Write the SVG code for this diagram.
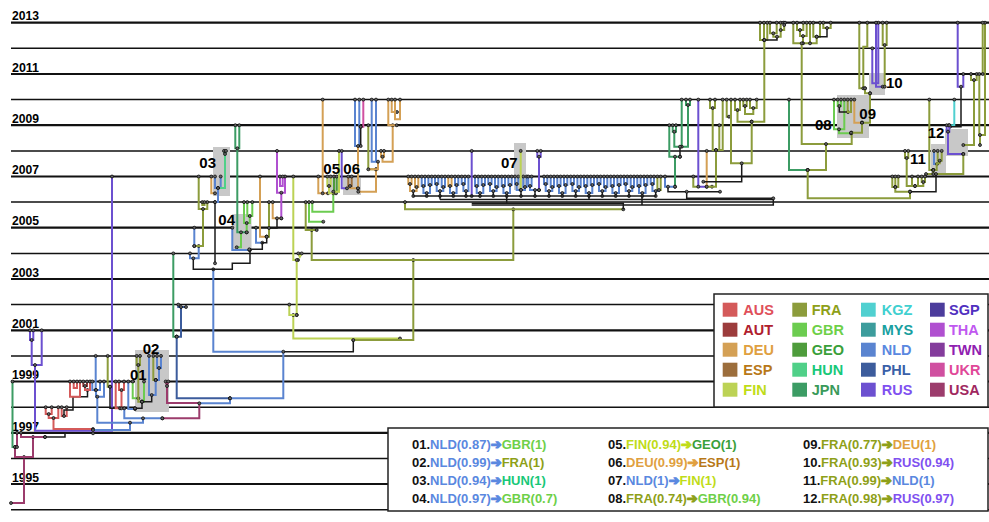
<svg xmlns="http://www.w3.org/2000/svg" width="989" height="522" viewBox="0 0 989 522">
<defs>
<marker id="dot" markerUnits="userSpaceOnUse" markerWidth="5" markerHeight="5" refX="2.5" refY="2.5" viewBox="0 0 5 5"><circle cx="2.5" cy="2.5" r="1.5" fill="#666" stroke="#000" stroke-width="0.7"/></marker>
</defs>
<style>
.yt{fill:none;stroke:#111;stroke-width:2.2}
.yn{fill:none;stroke:#111;stroke-width:1.5}
.yl{font-family:"Liberation Sans",Arial,sans-serif;font-weight:bold;font-size:13px;fill:#000}
.cl{font-family:"Liberation Sans",Arial,sans-serif;font-weight:bold;font-size:15px;fill:#000}
.hl{fill:#c8c8c8}
.e{fill:none;stroke-width:2;marker-start:url(#dot);marker-end:url(#dot)}
.kn{fill:none;stroke:#1a1a1a;stroke-width:1.5}
.k{stroke:#1a1a1a;stroke-width:1.5}
.aus{stroke:#d45a5a}.aut{stroke:#9c3c3c}.deu{stroke:#d4a055}.esp{stroke:#9c6e3c}.fin{stroke:#bcd255}
.fra{stroke:#8c9c3c}.gbr{stroke:#6ccc50}.geo{stroke:#4e9c3c}.hun{stroke:#50d088}.jpn{stroke:#3c9c64}
.kgz{stroke:#50d0d0}.mys{stroke:#3c9c9c}.nld{stroke:#5a84d0}.phl{stroke:#3c5c9c}.rus{stroke:#6c50d0}
.sgp{stroke:#4c3c9c}.tha{stroke:#b050d0}.twn{stroke:#843c9c}.ukr{stroke:#d050a0}.usa{stroke:#9c3c6c}
.box{fill:#fff;stroke:#222;stroke-width:1.5}
.lt{font-family:"Liberation Sans",Arial,sans-serif;font-weight:bold;font-size:14.5px}
.bt{font-family:"Liberation Sans",Arial,sans-serif;font-weight:bold;font-size:13px;fill:#111}
.ar{font-family:"DejaVu Sans",sans-serif;font-weight:bold;stroke-width:1.1;stroke-linejoin:round}
.cAUS{fill:#e0505a}.cAUT{fill:#b0202e}.cDEU{fill:#e0a040}.cESP{fill:#b87818}.cFIN{fill:#c0dc18}
.cFRA{fill:#8ea018}.cGBR{fill:#6ed048}.cGEO{fill:#3aa03a}.cHUN{fill:#18c878}.cJPN{fill:#3a9a5a}
.cKGZ{fill:#40d0d0}.cMYS{fill:#18a0a0}.cNLD{fill:#5a88e0}.cPHL{fill:#3a60a8}.cRUS{fill:#8050f0}
.cSGP{fill:#5030c0}.cTHA{fill:#c058f0}.cTWN{fill:#9020b0}.cUKR{fill:#e04898}.cUSA{fill:#a02860}
.sNLD{stroke:#5a88e0}.sFIN{stroke:#c0dc18}.sDEU{stroke:#e0a040}.sFRA{stroke:#8ea018}
</style>
<rect width="989" height="522" fill="#fff"/>
<g id="axis">
<path class="yt" d="M11,22.7H989M11,74H989M11,125.2H989M11,176.5H989M11,227.7H989M11,279H989M11,330.3H989M11,381.5H989M11,432.8H989M11,484H989"/>
<path class="yn" d="M11,48.3H989M11,99.6H989M11,150.9H989M11,202.1H989M11,253.4H989M11,304.6H989M11,355.9H989M11,407.2H989M11,458.4H989M11,509.7H989"/>
<text class="yl" x="12" y="20.4" textLength="27" lengthAdjust="spacingAndGlyphs">2013</text>
<text class="yl" x="12" y="71.7" textLength="27" lengthAdjust="spacingAndGlyphs">2011</text>
<text class="yl" x="12" y="122.9" textLength="27" lengthAdjust="spacingAndGlyphs">2009</text>
<text class="yl" x="12" y="174.2" textLength="27" lengthAdjust="spacingAndGlyphs">2007</text>
<text class="yl" x="12" y="225.4" textLength="27" lengthAdjust="spacingAndGlyphs">2005</text>
<text class="yl" x="12" y="276.7" textLength="27" lengthAdjust="spacingAndGlyphs">2003</text>
<text class="yl" x="12" y="328" textLength="27" lengthAdjust="spacingAndGlyphs">2001</text>
<text class="yl" x="12" y="379.2" textLength="27" lengthAdjust="spacingAndGlyphs">1999</text>
<text class="yl" x="12" y="430.5" textLength="27" lengthAdjust="spacingAndGlyphs">1997</text>
<text class="yl" x="12" y="481.7" textLength="27" lengthAdjust="spacingAndGlyphs">1995</text>
</g>
<g id="highlights">
<rect class="hl" x="135" y="350" width="34" height="62"/>
<rect class="hl" x="213" y="147" width="17" height="49"/>
<rect class="hl" x="232" y="214" width="19.5" height="36"/>
<rect class="hl" x="328" y="176" width="12" height="17"/>
<rect class="hl" x="343" y="178" width="18" height="17"/>
<rect class="hl" x="514" y="143" width="12" height="47"/>
<rect class="hl" x="837" y="95" width="32" height="43"/>
<rect class="hl" x="869" y="73" width="16" height="22"/>
<rect class="hl" x="931" y="144" width="15" height="29"/>
<rect class="hl" x="945" y="129" width="23" height="27"/>
</g>
<g id="connectors">
<path class="e usa" d="M24,457V503H11"/>
<path class="e usa" d="M15,447V457H33V437"/>
<path class="e jpn" d="M12.5,381.5V447H15"/>
<path class="e usa" d="M17,432.8V447"/>
<path class="e usa" d="M21,432.8V437H45"/>
<path class="e k" d="M45,437H65V433.3H93"/>
<path class="e rus" d="M30,330.3V340H33.3V330.3"/>
<path class="e rus" d="M31.7,340V365H41.7V330.3"/>
<path class="e rus" d="M35,365V430.7H112V176.5"/>
<path class="e aus" d="M45.7,407.2V414H51.7V407.2"/>
<path class="e aus" d="M48.7,414V418H58.3V407.2"/>
<path class="e aus" d="M53.5,418V429H93"/>
<path class="e aus" d="M61.7,407.2V416H66.7V407.2"/>
<path class="e k" d="M87.5,390V396.7H73V410H64V416"/>
<path class="e aus" d="M70,381.5V396.7H80V381.5"/>
<path class="e aus" d="M73.7,381.5V388H77V381.5"/>
<path class="e aut" d="M83.3,381.5V386H87V381.5"/>
<path class="e aus" d="M85,386V390H90V381.5"/>
<path class="e nld" d="M92.3,381.5V390H100V381.5"/>
<path class="e nld" d="M95.7,355.9V390"/>
<path class="e nld" d="M96,390V396.7H104V381.5"/>
<path class="e nld" d="M97.3,396.7V422.7H130V430H93"/>
<path class="e fra" d="M107.7,355.9V386.7H110"/>
<path class="e k" d="M110,386.7V408.3H135"/>
<path class="e aus" d="M115.7,381.5V408.3H120"/>
<path class="e aus" d="M119,381.5V390H124V381.5"/>
<path class="e aus" d="M121.5,390V408.3"/>
<path class="e nld" d="M128.3,381.5V409H135"/>
<path class="e gbr" d="M132.7,381.5V398.3H138.3"/>
<path class="e fra" d="M136.7,355.9V365H140V355.9"/>
<path class="e fra" d="M138.3,365V401.7H142"/>
<path class="e gbr" d="M144,381.5V401.7H142"/>
<path class="e k" d="M142,401.7V408.3H135"/>
<path class="e nld" d="M157,355.9V368H161V355.9"/>
<path class="e nld" d="M159,368V380H155.7"/>
<path class="e fra" d="M153.3,355.9V380H155.7"/>
<path class="e nld" d="M149,355.9V395H155.7V380"/>
<path class="e k" d="M151.7,395V401.7H142"/>
<path class="e usa" d="M165.7,381.5L167,386L168.3,381.5"/>
<path class="e usa" d="M167,386V403H199.3V418.3H162.3"/>
<path class="e nld" d="M124.3,408.3V418.3H162.3"/>
<path class="e nld" d="M143,418.3V422.7H130"/>
<path class="e jpn" d="M173.3,253.4V336.7H176.7"/>
<path class="e phl" d="M178.3,304.6V307H186"/>
<path class="e phl" d="M181,307V336.7H176.7"/>
<path class="e phl" d="M176.7,336.7V398.3H230"/>
<path class="e nld" d="M230,398.3V403.3H199.3"/>
<path class="e nld" d="M230,398.3H283.3V351.7H213.3V269.3"/>
<path class="e k" d="M283.3,351.7H353.3V340"/>
<path class="e fin" d="M293.3,315V338.5H400"/>
<path class="e fra" d="M353.3,340H413.3V260"/>
<path class="e nld" d="M190,253.4V258.3H198.7V246"/>
<path class="e fra" d="M198.7,176.5V209H207.3V202.1"/>
<path class="e fra" d="M202.3,202.1V205H204.5V202.1"/>
<path class="e fra" d="M203,209V246H194.3"/>
<path class="e nld" d="M194.3,227.7V246"/>
<path class="e k" d="M193.3,258.3V269.3H232.3V263.3H250V250"/>
<path class="e k" d="M215,202.1V263.3"/>
<path class="e deu" d="M211.3,176.5V193.3H215"/>
<path class="e nld" d="M215,176.5V188H220.7V176.5"/>
<path class="e hun" d="M224,150.9L225,154L226,150.9"/>
<path class="e hun" d="M225,154V188H218"/>
<path class="e nld" d="M218,188V202.1H215"/>
<path class="e jpn" d="M235.3,125.2V148.3H239.3V125.2"/>
<path class="e jpn" d="M237.3,148.3V232.3H246.7"/>
<path class="e gbr" d="M247.3,202.1V216H252.3V202.1"/>
<path class="e gbr" d="M249.8,216V223H244V202.1"/>
<path class="e gbr" d="M246.7,223V232.3"/>
<path class="e gbr" d="M241,232.3V247.3H236.7"/>
<path class="e nld" d="M232.3,227.7V250H249.3"/>
<path class="e nld" d="M256,227.7V242.7H262.3"/>
<path class="e deu" d="M260,176.5V236.7H266.7"/>
<path class="e fra" d="M269,202.1V236.7H266.7"/>
<path class="e deu" d="M272.7,202.1V218.3H281.3"/>
<path class="e tha" d="M277,150.9V192.7H285V176.5"/>
<path class="e tha" d="M280,176.5V186H282.7V176.5"/>
<path class="e tha" d="M281.3,192.7V218.3"/>
<path class="e k" d="M277,218.3V228H269"/>
<path class="e k" d="M266.7,236.7V242.7H262.3V249.3H249.3"/>
<path class="e fin" d="M293.3,176.5V260H298"/>
<path class="e fin" d="M298.3,253.4L299.8,257L301.7,253.4"/>
<path class="e fin" d="M296.7,260V315"/>
<path class="e fin" d="M289.3,304.6V315H296.7"/>
<path class="e fra" d="M513.3,209.3V260H311.7V230"/>
<path class="e fra" d="M305.7,202.1V230H316.7"/>
<path class="e gbr" d="M309,202.1V221.7H323.3"/>
<path class="e gbr" d="M312.3,202.1V211.7H333.3V193.3"/>
<path class="e deu" d="M318.3,176.5V193.3H328"/>
<path class="e deu" d="M322.7,99.6V193.3"/>
<path class="e fin" d="M327.3,176.5V186H330.7V176.5"/>
<path class="e fin" d="M329,186V193.3H336"/>
<path class="e geo" d="M334,176.5V191.7H336.7V176.5"/>
<path class="e fin" d="M339,150.9V191.7H333.3"/>
<path class="e rus" d="M341.7,150.9V188.3H347"/>
<path class="e esp" d="M348.3,176.5V186H351.7V176.5"/>
<path class="e deu" d="M350,186V188.3H358"/>
<path class="e deu" d="M358.3,191.7H376V169.3"/>
<path class="e nld" d="M355,99.6V146H359.3V99.6"/>
<path class="e ukr" d="M363.3,99.6V126.7H360.7"/>
<path class="e k" d="M360.7,126.7V146"/>
<path class="e deu" d="M358,146V188.3"/>
<path class="e fra" d="M368.3,125.2V169.3H376"/>
<path class="e nld" d="M371.7,99.6V161.7H376V99.6"/>
<path class="e deu" d="M381,150.9V156.7H384V150.9"/>
<path class="e deu" d="M382.5,156.7V161.7H392.7V125.2"/>
<path class="e deu" d="M378,161.7V169.3H368.3"/>
<path class="e deu" d="M388.3,99.6V125.2H396.7"/>
<path class="e deu" d="M391.7,99.6V112H397"/>
<path class="e deu" d="M395,99.6V119.3H400V99.6"/>
<path class="e fra" d="M405,202.1V209.3H623.3"/>
<path class="e deu" d="M408.3,176.5V184H411.6V176.5"/><path class="e deu" d="M415,176.5V187H418.3V176.5"/><path class="e deu" d="M410,184V191H416.6V187"/><path class="e k" d="M413.3,191V196"/>
<path class="e nld" d="M421.7,176.5V186H425V176.5"/><path class="e nld" d="M428.4,176.5V185H431.7V176.5"/><path class="e nld" d="M423.4,186V193H430V185"/><path class="e k" d="M426.7,193V196"/>
<path class="e nld" d="M435,176.5V184H438.3V176.5"/><path class="e nld" d="M441.7,176.5V187H445V176.5"/><path class="e nld" d="M436.7,184V191H443.3V187"/><path class="e k" d="M440,191V196"/>
<path class="e deu" d="M448.3,176.5V186H451.6V176.5"/><path class="e nld" d="M455,176.5V185H458.3V176.5"/><path class="e nld" d="M450,186V193H456.6V185"/><path class="e k" d="M453.3,193V196"/>
<path class="e nld" d="M461.7,176.5V184H465V176.5"/><path class="e nld" d="M463.4,184V191H468.4V176.5"/><path class="e k" d="M466,191V196"/>
<path class="e rus" d="M471.7,150.9V196"/>
<path class="e nld" d="M475,176.5V186H478.3V176.5"/><path class="e nld" d="M481.7,176.5V185H485V176.5"/><path class="e nld" d="M476.7,186V193H483.3V185"/><path class="e k" d="M480,193V196"/>
<path class="e nld" d="M488.3,176.5V184H491.6V176.5"/><path class="e nld" d="M495,176.5V187H498.3V176.5"/><path class="e nld" d="M490,184V191H496.6V187"/><path class="e k" d="M493.3,191V196"/>
<path class="e nld" d="M501.7,176.5V186H505V176.5"/><path class="e nld" d="M508.4,176.5V185H511.7V176.5"/><path class="e nld" d="M503.4,186V193H510V185"/><path class="e k" d="M506.7,193V196"/>
<path class="e nld" d="M515,176.5V184H518.3V176.5"/><path class="e nld" d="M523.3,176.5V187H526.7V176.5"/><path class="e nld" d="M516.7,184V190H525V187"/><path class="e fin" d="M520.7,150.9V190"/><path class="e k" d="M521,190V196"/>
<path class="e nld" d="M528.3,176.5V186H531.6V176.5"/><path class="e nld" d="M530,186V190H539"/><path class="e rus" d="M537.3,150.9V156.7H540.7V150.9"/><path class="e rus" d="M539,156.7V190"/><path class="e k" d="M535,190V196"/>
<path class="e nld" d="M544,176.5V184H547.3V176.5"/><path class="e nld" d="M550.7,176.5V187H554V176.5"/><path class="e nld" d="M545.7,184V191H552.3V187"/><path class="e k" d="M549,191V196"/>
<path class="e nld" d="M557.3,176.5V186H560.6V176.5"/><path class="e nld" d="M564,176.5V185H567.3V176.5"/><path class="e nld" d="M559,186V193H565.6V185"/><path class="e k" d="M562.3,193V196"/>
<path class="e nld" d="M570.7,176.5V184H574V176.5"/><path class="e nld" d="M577.4,176.5V187H580.7V176.5"/><path class="e nld" d="M572.4,184V191H579V187"/><path class="e k" d="M575.7,191V196"/>
<path class="e nld" d="M584,176.5V186H587.3V176.5"/><path class="e nld" d="M590.7,176.5V185H594V176.5"/><path class="e nld" d="M585.7,186V193H592.3V185"/><path class="e k" d="M589,193V196"/>
<path class="e nld" d="M597.3,176.5V184H600.6V176.5"/><path class="e nld" d="M604,176.5V187H607.3V176.5"/><path class="e nld" d="M599,184V191H605.6V187"/><path class="e k" d="M602.3,191V196"/>
<path class="e nld" d="M610.7,176.5V186H614V176.5"/><path class="e nld" d="M617.4,176.5V185H620.7V176.5"/><path class="e nld" d="M612.4,186V193H619V185"/><path class="e k" d="M615.7,193V196"/>
<path class="e nld" d="M624,176.5V184H627.3V176.5"/><path class="e nld" d="M630.7,176.5V187H634V176.5"/><path class="e nld" d="M625.7,184V191H632.3V187"/><path class="e k" d="M629,191V196"/>
<path class="e nld" d="M637.3,176.5V186H640.6V176.5"/><path class="e nld" d="M644,176.5V185H647.3V176.5"/><path class="e nld" d="M639,186V193H645.6V185"/><path class="e k" d="M642.3,193V196"/>
<path class="e nld" d="M650.7,176.5V184H654V176.5"/><path class="e fra" d="M657.4,176.5V190H660.7V176.5"/><path class="e nld" d="M652.4,184V191H659V190"/><path class="e k" d="M655.7,191V196"/>
<path class="kn" d="M413.3,196H656M440,196V199.5M506.7,196V203.3M589,196V199.5M642,196V205"/>
<path class="kn" d="M440,199.5H773.3V205H471.7M471.7,203.3H623.3V209.3"/>
<path class="e jpn" d="M669.3,125.2V156.7H680"/>
<path class="e jpn" d="M672.7,125.2V131.7H676V125.2"/>
<path class="e jpn" d="M674.3,131.7V146.7H681.7V99.6"/>
<path class="e jpn" d="M686,99.6V105H690V99.6"/>
<path class="e jpn" d="M688,105V146.7H681.7"/>
<path class="e k" d="M680,146.7V156.7"/>
<path class="e jpn" d="M675,156.7V186.7"/>
<path class="e nld" d="M665,176.5V186.7H675"/>
<path class="e k" d="M668,186.7V191.7H720"/>
<path class="e k" d="M686.7,191.7V198.3H773.3"/>
<path class="e rus" d="M698.3,99.6V186.7H706.7"/>
<path class="e deu" d="M706.7,150.9V186.7H712"/>
<path class="e fra" d="M693.3,176.5V186.7H698.3"/>
<path class="e fra" d="M710,99.6V108H715V99.6"/>
<path class="e fra" d="M712.7,108V150H719.3V125.2"/>
<path class="e fra" d="M722.7,99.6V150H716"/>
<path class="e fra" d="M716,150V186.7H706.7"/>
<path class="e fra" d="M726.7,99.6V116.7H729"/>
<path class="e fra" d="M731,99.6V163.3H751.7V121.7"/>
<path class="e fra" d="M735,99.6V110H740V99.6"/>
<path class="e fra" d="M743.3,99.6V106H746.7V99.6"/>
<path class="e fra" d="M750,99.6V108H756.7V99.6"/>
<path class="e fra" d="M737.5,110V121.7H751.7"/>
<path class="e fra" d="M745,106V114H753.3V108"/>
<path class="e k" d="M741.7,163.3V181.7H703.3"/>
<path class="e fra" d="M764.3,40V121.7H751.7"/>
<path class="e fra" d="M760,22.7V40H767.3V22.7"/>
<path class="e fra" d="M764,22.7V40"/>
<path class="e fra" d="M770,22.7V33.3H776.7V22.7"/>
<path class="e fra" d="M773.3,33.3V36.7H780.7V22.7"/>
<path class="e k" d="M777,36.7V40H764.3"/>
<path class="e fra" d="M783.3,22.7L784.2,25L785,22.7"/>
<path class="e fra" d="M784.2,25V30H780.7"/>
<path class="e fra" d="M793.3,22.7V43.3H810V22.7"/>
<path class="e fra" d="M797,22.7V30H803.3V22.7"/>
<path class="e fra" d="M800,30V36H806.7V22.7"/>
<path class="e fra" d="M803,36V43.3"/>
<path class="e fra" d="M813.3,22.7V36.7H820V22.7"/>
<path class="e fra" d="M816.7,36.7V43.3H810"/>
<path class="e fra" d="M823.3,22.7V28H830.7V22.7"/>
<path class="e k" d="M827,28V36.7H816.7"/>
<path class="e fra" d="M801.7,43.3V144H851.7V132.7"/>
<path class="e jpn" d="M789,99.6V170H807.7"/>
<path class="e fra" d="M826,144V170H807.7"/>
<path class="e fra" d="M807.7,170V198.3H910V191.7"/>
<path class="e gbr" d="M834,99.6V129.3H844.3V99.6"/>
<path class="e gbr" d="M837.7,99.6V106H841V99.6"/>
<path class="e k" d="M839.3,106V112H848"/>
<path class="e fra" d="M847.7,99.6V112H851V99.6"/>
<path class="e gbr" d="M839,129.3V133.3H851"/>
<path class="e deu" d="M854.3,99.6V122.7H862"/>
<path class="e fra" d="M870,93.3V122.7H862"/>
<path class="e fra" d="M862,122.7V132.7H851"/>
<path class="e fra" d="M859.3,22.7V88.3H865"/>
<path class="e fra" d="M867.3,22.7V46.7H863.3V88.3"/>
<path class="e rus" d="M872.3,48.3V83.3H878.3V22.7"/>
<path class="e rus" d="M876,22.7V86.7H882.7"/>
<path class="e fra" d="M882.7,22.7V45H886.7V22.7"/>
<path class="e fra" d="M884.7,45V86.7"/>
<path class="e fra" d="M865,88.3V93.3H870"/>
<path class="e kgz" d="M954.3,99.6V125.2H949"/>
<path class="e rus" d="M957.7,22.7V86.7H963.3V74"/>
<path class="e k" d="M961,86.7V126.7H950"/>
<path class="e rus" d="M946.7,125.2V131.7H949.3V125.2"/>
<path class="e rus" d="M948,131.7V154H963.3"/>
<path class="e fra" d="M971,74V80H976.7V74"/>
<path class="e fra" d="M974,80V145H963.3"/>
<path class="e fra" d="M979.3,74V135H985V22.7"/>
<path class="e fra" d="M982.7,22.7V74"/>
<path class="e fra" d="M980,135V145"/>
<path class="e fra" d="M929.3,99.6V170H933.3"/>
<path class="e fra" d="M963.3,154V174H926"/>
<path class="e nld" d="M934,150.9V164H937"/>
<path class="e fra" d="M937.7,150.9V160.7H941.7V150.9"/>
<path class="e fra" d="M939.7,160.7V163.3H936.7V170H933.3"/>
<path class="e fra" d="M933.3,170V174"/>
<path class="e fra" d="M892.3,176.5V187H898.3V176.5"/>
<path class="e fra" d="M895.3,176.5V187"/>
<path class="e fra" d="M905,150.9V158H908.3V150.9"/>
<path class="e fra" d="M906.7,158V186H915"/>
<path class="e fra" d="M912,176.5V186H918V176.5"/>
<path class="e fra" d="M921.7,176.5V182H925V176.5"/>
<path class="e fra" d="M923.3,182V186H915"/>
<path class="e k" d="M910,191.7H936V174"/>
<path class="e fra" d="M895.3,187V191.7H910"/>
</g>
<g id="cluster-labels">
<text class="cl" x="130" y="380">01</text>
<text class="cl" x="142.7" y="354">02</text>
<text class="cl" x="199.3" y="168.3">03</text>
<text class="cl" x="218.3" y="225">04</text>
<text class="cl" x="323.3" y="174">05</text>
<text class="cl" x="343.3" y="174">06</text>
<text class="cl" x="501" y="168.3">07</text>
<text class="cl" x="815" y="130">08</text>
<text class="cl" x="859.3" y="118.7">09</text>
<text class="cl" x="886" y="88.3">10</text>
<text class="cl" x="910" y="164.3">11</text>
<text class="cl" x="927.7" y="138.3">12</text>
</g>
<g id="legend">
<rect class="box" x="714" y="294" width="274" height="113"/>
<rect x="722.7" y="302.7" width="14.7" height="14" fill="#d45a5a"/><text class="lt cAUS" x="743.3" y="315.2">AUS</text>
<rect x="722.7" y="322.7" width="14.7" height="14" fill="#9c3c3c"/><text class="lt cAUT" x="743.3" y="335.2">AUT</text>
<rect x="722.7" y="342.7" width="14.7" height="14" fill="#d4a055"/><text class="lt cDEU" x="743.3" y="355.2">DEU</text>
<rect x="722.7" y="362.7" width="14.7" height="14" fill="#9c6e3c"/><text class="lt cESP" x="743.3" y="375.2">ESP</text>
<rect x="722.7" y="382.7" width="14.7" height="14" fill="#bcd255"/><text class="lt cFIN" x="743.3" y="395.2">FIN</text>
<rect x="792.3" y="302.7" width="14.7" height="14" fill="#8c9c3c"/><text class="lt cFRA" x="811.7" y="315.2">FRA</text>
<rect x="792.3" y="322.7" width="14.7" height="14" fill="#6ccc50"/><text class="lt cGBR" x="811.7" y="335.2">GBR</text>
<rect x="792.3" y="342.7" width="14.7" height="14" fill="#4e9c3c"/><text class="lt cGEO" x="811.7" y="355.2">GEO</text>
<rect x="792.3" y="362.7" width="14.7" height="14" fill="#50d088"/><text class="lt cHUN" x="811.7" y="375.2">HUN</text>
<rect x="792.3" y="382.7" width="14.7" height="14" fill="#3c9c64"/><text class="lt cJPN" x="811.7" y="395.2">JPN</text>
<rect x="861" y="302.7" width="14.7" height="14" fill="#50d0d0"/><text class="lt cKGZ" x="881.7" y="315.2">KGZ</text>
<rect x="861" y="322.7" width="14.7" height="14" fill="#3c9c9c"/><text class="lt cMYS" x="881.7" y="335.2">MYS</text>
<rect x="861" y="342.7" width="14.7" height="14" fill="#5a84d0"/><text class="lt cNLD" x="881.7" y="355.2">NLD</text>
<rect x="861" y="362.7" width="14.7" height="14" fill="#3c5c9c"/><text class="lt cPHL" x="881.7" y="375.2">PHL</text>
<rect x="861" y="382.7" width="14.7" height="14" fill="#6c50d0"/><text class="lt cRUS" x="881.7" y="395.2">RUS</text>
<rect x="930" y="302.7" width="14.7" height="14" fill="#4c3c9c"/><text class="lt cSGP" x="949" y="315.2">SGP</text>
<rect x="930" y="322.7" width="14.7" height="14" fill="#b050d0"/><text class="lt cTHA" x="949" y="335.2">THA</text>
<rect x="930" y="342.7" width="14.7" height="14" fill="#843c9c"/><text class="lt cTWN" x="949" y="355.2">TWN</text>
<rect x="930" y="362.7" width="14.7" height="14" fill="#d050a0"/><text class="lt cUKR" x="949" y="375.2">UKR</text>
<rect x="930" y="382.7" width="14.7" height="14" fill="#9c3c6c"/><text class="lt cUSA" x="949" y="395.2">USA</text>
</g>
<g id="transitions">
<rect class="box" x="388" y="428" width="600" height="83"/>
<text class="bt" x="412" y="449">01.<tspan class="cNLD">NLD(0.87)</tspan><tspan class="cNLD sNLD ar">➔</tspan><tspan class="cGBR">GBR(1)</tspan></text>
<text class="bt" x="412" y="467">02.<tspan class="cNLD">NLD(0.99)</tspan><tspan class="cNLD sNLD ar">➔</tspan><tspan class="cFRA">FRA(1)</tspan></text>
<text class="bt" x="412" y="485">03.<tspan class="cNLD">NLD(0.94)</tspan><tspan class="cNLD sNLD ar">➔</tspan><tspan class="cHUN">HUN(1)</tspan></text>
<text class="bt" x="412" y="503">04.<tspan class="cNLD">NLD(0.97)</tspan><tspan class="cNLD sNLD ar">➔</tspan><tspan class="cGBR">GBR(0.7)</tspan></text>
<text class="bt" x="608" y="449">05.<tspan class="cFIN">FIN(0.94)</tspan><tspan class="cFIN sFIN ar">➔</tspan><tspan class="cGEO">GEO(1)</tspan></text>
<text class="bt" x="608" y="467">06.<tspan class="cDEU">DEU(0.99)</tspan><tspan class="cDEU sDEU ar">➔</tspan><tspan class="cESP">ESP(1)</tspan></text>
<text class="bt" x="608" y="485">07.<tspan class="cNLD">NLD(1)</tspan><tspan class="cNLD sNLD ar">➔</tspan><tspan class="cFIN">FIN(1)</tspan></text>
<text class="bt" x="608" y="503">08.<tspan class="cFRA">FRA(0.74)</tspan><tspan class="cFRA sFRA ar">➔</tspan><tspan class="cGBR">GBR(0.94)</tspan></text>
<text class="bt" x="803" y="449">09.<tspan class="cFRA">FRA(0.77)</tspan><tspan class="cFRA sFRA ar">➔</tspan><tspan class="cDEU">DEU(1)</tspan></text>
<text class="bt" x="803" y="467">10.<tspan class="cFRA">FRA(0.93)</tspan><tspan class="cFRA sFRA ar">➔</tspan><tspan class="cRUS">RUS(0.94)</tspan></text>
<text class="bt" x="803" y="485">11.<tspan class="cFRA">FRA(0.99)</tspan><tspan class="cFRA sFRA ar">➔</tspan><tspan class="cNLD">NLD(1)</tspan></text>
<text class="bt" x="803" y="503">12.<tspan class="cFRA">FRA(0.98)</tspan><tspan class="cFRA sFRA ar">➔</tspan><tspan class="cRUS">RUS(0.97)</tspan></text>
</g>
</svg>
